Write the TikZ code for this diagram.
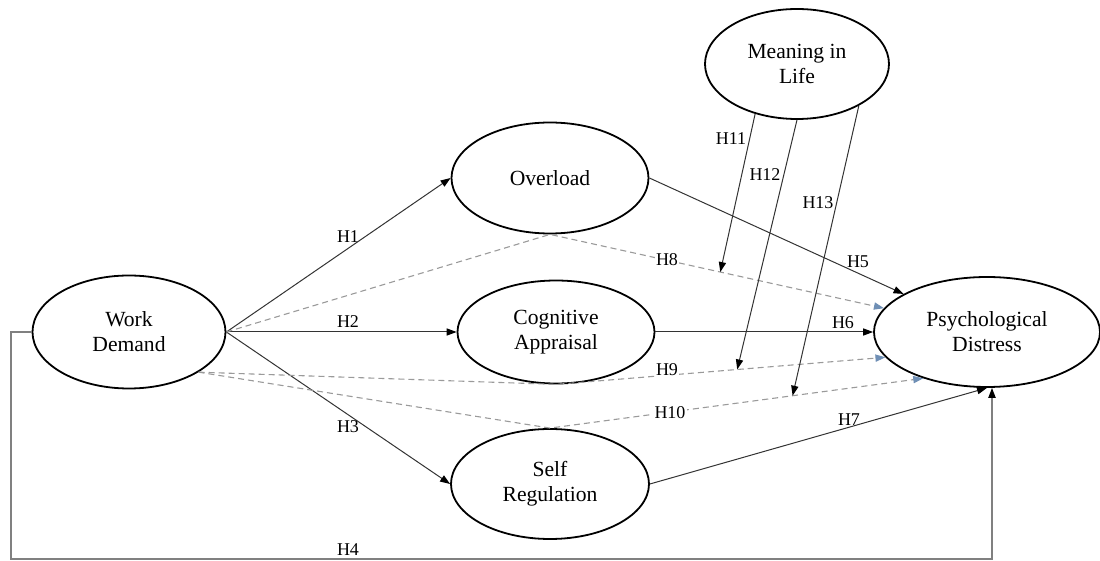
\documentclass[tikz,border=0pt]{standalone}
\usepackage{fontspec}
\setmainfont{Liberation Serif}
\usetikzlibrary{shapes.geometric,arrows.meta}
\definecolor{solidc}{HTML}{333333}
\definecolor{dashc}{HTML}{9A9A9A}
\definecolor{tipc}{HTML}{6F8FB5}
\definecolor{loopc}{HTML}{808080}
\begin{document}
\begin{tikzpicture}[x=0.5pt,y=-0.5pt,
  var/.style={ellipse,draw=black,line width=0.9pt,inner sep=0pt,align=center,font=\fontsize{10.8}{12.5}\selectfont},
  hlabel/.style={font=\fontsize{9}{10}\selectfont,inner sep=0.6pt},
  hlabelw/.style={hlabel,fill=white},
  solidarrow/.style={draw=solidc,line width=0.5pt,-{Triangle[length=5pt,width=3.6pt,color=black]}},
  dasharrow/.style={draw=dashc,line width=0.55pt,dash pattern=on 3pt off 2pt,-{Triangle[length=5pt,width=3.6pt,color=tipc]}},
  looparrow/.style={draw=loopc,line width=0.75pt,-{Triangle[length=5pt,width=3.6pt,color=black]}},
]
\useasboundingbox (0,0) rectangle (1100,561);
% nodes
\node[var,minimum width=96.5pt,minimum height=56.5pt] (wd) at (129,332) {Work\\Demand};
\node[var,minimum width=98.5pt,minimum height=55.5pt] (ov) at (550,178) {Overload};
\node[var,minimum width=98.5pt,minimum height=51.5pt] (ca) at (556,332) {Cognitive\\Appraisal};
\node[var,minimum width=99pt,minimum height=55pt] (sr) at (550,484) {Self\\Regulation};
\node[var,minimum width=113pt,minimum height=55pt] (pd) at (987,332) {Psychological\\Distress};
\node[var,minimum width=92pt,minimum height=55pt] (ml) at (797,64) {Meaning in\\Life};
% direct paths
\draw[solidarrow] (wd.east) -- (ov.west);
\draw[solidarrow] (wd.east) -- (ca.west);
\draw[solidarrow] (wd.east) -- (sr.west);
\draw[solidarrow] (ov.east) -- (pd);
\draw[solidarrow] (ca.east) -- (pd.west);
\draw[solidarrow] (sr.east) -- (pd.south);
% H4 loop
\coordinate (bl) at (11,559);
\coordinate (br) at (992,559);
\draw[looparrow] (wd.west) -| (bl) -- (br) -- (br |- pd.south);
% mediated (dashed) paths
\draw[dasharrow] (wd.east) -- (ov.south) -- (pd.167);
\draw[dasharrow] (wd.-30) -- (ca.south) -- (pd.194);
\draw[dasharrow] (wd.-30) -- (sr.north) -- (pd.216);
% moderation targets on dashed paths
\path (ov.south) -- (pd.167) coordinate[pos=0.51] (m8);
\path (ca.south) -- (pd.194) coordinate[pos=0.55] (m9);
\path (sr.north) -- (pd.216) coordinate[pos=0.65] (m10);
\draw[solidarrow] (ml.230) -- (m8);
\draw[solidarrow] (ml.south) -- (m9);
\draw[solidarrow] (ml.326) -- (m10);
% labels
\node[hlabel] (l1) at (348,237) {H1};
\node[hlabel] (l2) at (348,322) {H2};
\node[hlabel] (l3) at (348,427) {H3};
\node[hlabel] (l4) at (348,550) {H4};
\node[hlabel] (l5) at (858,262) {H5};
\node[hlabel] (l6) at (843,323) {H6};
\node[hlabel] (l7) at (849,420) {H7};
\node[hlabelw] (l8) at (667,260) {H8};
\node[hlabelw] (l9) at (667,370) {H9};
\node[hlabelw] (l10) at (670,413) {H10};
\node[hlabel] (l11) at (731,139) {H11};
\node[hlabel] (l12) at (765,175) {H12};
\node[hlabel] (l13) at (818,203) {H13};
\end{tikzpicture}
\end{document}
